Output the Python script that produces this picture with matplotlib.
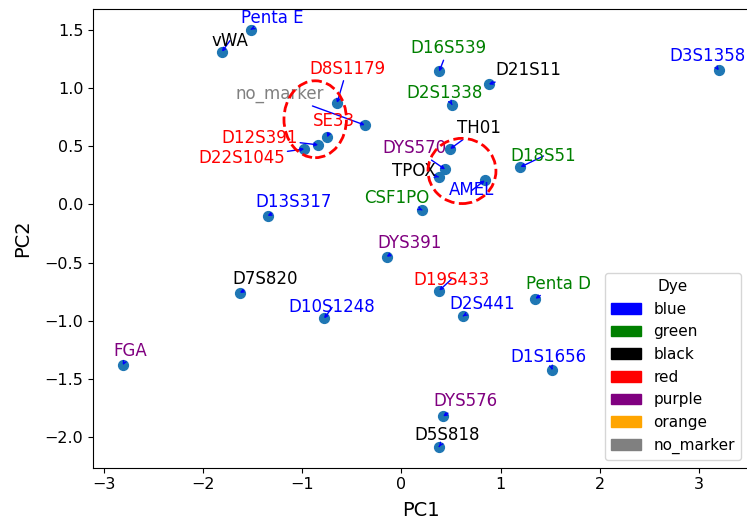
import matplotlib
matplotlib.use('Agg')
import matplotlib.pyplot as plt
import matplotlib.patches as mpatches

# PCA scores per marker
markers = ['Penta E', 'vWA', 'D8S1179', 'no_marker', 'SE33', 'D12S391', 'D22S1045',
           'D16S539', 'D21S11', 'D2S1338', 'D3S1358', 'TH01', 'DYS570', 'TPOX',
           'AMEL', 'CSF1PO', 'D18S51', 'D13S317', 'DYS391', 'D7S820', 'D10S1248',
           'D19S433', 'D2S441', 'Penta D', 'FGA', 'D1S1656', 'DYS576', 'D5S818']
pc1 = [-1.52, -1.81, -0.65, -0.37, -0.75, -0.84, -0.98,
       0.38, 0.88, 0.51, 3.20, 0.49, 0.44, 0.375,
       0.84, 0.21, 1.20, -1.35, -0.15, -1.63, -0.78,
       0.38, 0.62, 1.35, -2.81, 1.52, 0.42, 0.38]
pc2 = [1.50, 1.31, 0.87, 0.68, 0.575, 0.51, 0.475,
       1.14, 1.03, 0.855, 1.15, 0.475, 0.30, 0.235,
       0.205, -0.05, 0.32, -0.10, -0.45, -0.76, -0.98,
       -0.74, -0.96, -0.81, -1.38, -1.42, -1.82, -2.08]
dyes = ['blue', 'black', 'red', 'gray', 'red', 'red', 'red',
        'green', 'black', 'green', 'blue', 'black', 'purple', 'black',
        'blue', 'green', 'green', 'blue', 'purple', 'black', 'blue',
        'red', 'blue', 'green', 'purple', 'blue', 'purple', 'black']

dye_names = ['blue', 'green', 'black', 'red', 'purple', 'orange', 'no_marker']
dye_colors = ['blue', 'green', 'black', 'red', 'purple', 'orange', 'gray']

# label offsets (pixels, right / up) from each point
offsets = {
    'Penta E': (22, 12), 'vWA': (8, 11), 'D8S1179': (10, 34),
    'no_marker': (-85, 31), 'SE33': (7, 16), 'D12S391': (-59, 7),
    'D22S1045': (-63, -9), 'D16S539': (9, 23), 'D21S11': (40, 14),
    'D2S1338': (-7, 12), 'D3S1358': (-11, 14), 'TH01': (29, 21),
    'DYS570': (-31, 21), 'TPOX': (-25, 6), 'AMEL': (-13, -10),
    'CSF1PO': (-26, 12), 'D18S51': (23, 11), 'D13S317': (26, 14),
    'DYS391': (23, 14), 'D7S820': (25, 14), 'D10S1248': (8, 11),
    'D19S433': (12, 11), 'D2S441': (19, 12), 'Penta D': (23, 15),
    'FGA': (7, 14), 'D1S1656': (-4, 13), 'DYS576': (22, 15), 'D5S818': (8, 12),
}

fig = plt.figure(figsize=(7.47, 5.22), dpi=100)
ax = fig.add_axes([0.1245, 0.1044, 0.8777, 0.879])

ax.scatter(pc1, pc2, s=50, color='#1f77b4', zorder=2)

for name, x, y, c in zip(markers, pc1, pc2, dyes):
    dx, dy = offsets[name]
    ax.annotate(name, (x, y), xytext=(dx * 0.72, dy * 0.72),
                textcoords='offset points', ha='center', va='center',
                color=c, fontsize=12, zorder=3,
                arrowprops=dict(arrowstyle='->', color='blue', lw=1,
                                shrinkA=0, shrinkB=0, mutation_scale=5))

# highlight the two tight clusters
ax.add_patch(mpatches.Ellipse((-0.87, 0.73), 0.63, 0.66, fill=False,
                              edgecolor='red', lw=2, ls='--', zorder=4))
ax.add_patch(mpatches.Ellipse((0.61, 0.286), 0.685, 0.56, fill=False,
                              edgecolor='red', lw=2, ls='--', zorder=4))

ax.set_xlabel('PC1', fontsize=14, labelpad=6)
ax.set_ylabel('PC2', fontsize=14, labelpad=9)
ax.tick_params(labelsize=11.5)

handles = [mpatches.Patch(color=c, label=n) for n, c in zip(dye_names, dye_colors)]
ax.legend(handles=handles, title='Dye', loc='lower right', fontsize=11,
          title_fontsize=11)

fig.savefig('out.png', dpi=100)
